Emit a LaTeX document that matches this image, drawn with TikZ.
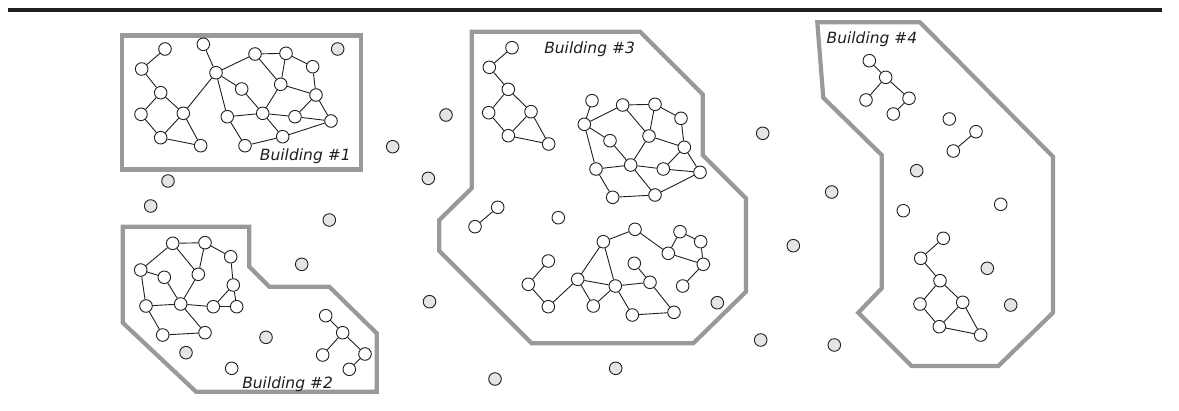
\documentclass[tikz,border=0pt]{standalone}
\usepackage{fontspec}
\setsansfont{DejaVu Sans}
\usetikzlibrary{positioning}
\colorlet{mywall}{black!40}
\colorlet{myfree}{black!10}
\colorlet{myink}{black!88}

\begin{document}
\begin{tikzpicture}[
    x=1pt, y=-1pt, line width=0.9pt, draw=myink,
    dev/.style={circle, draw=myink, fill=white, minimum size=12.6pt, inner sep=0pt},
    stray/.style={dev, fill=myfree},
    wall/.style={draw=mywall, line width=4.2pt, line join=miter},
    tag/.style={anchor=base west, inner sep=0pt, text=myink,
                font=\sffamily\itshape\fontsize{15.5}{18}\selectfont},
  ]
  \useasboundingbox (0,0) rectangle (1179,410);
  \draw[line width=3.6pt, myink] (8,10) -- (1162,10);

  % ------------------------------------------------------------------ walls
  \draw[wall] (122,35.5) rectangle (361,169.5);
  \draw[wall] (122.7,226.7) -- (249.3,226.7) -- (249.3,266.7) -- (269.3,286.7)
    -- (329.3,286.7) -- (376.7,333.3) -- (376.7,391.7) -- (196,391.7)
    -- (122.7,322.7) -- cycle;
  \draw[wall] (471.7,31.7) -- (640,31.7) -- (702.7,94.3) -- (702.7,155)
    -- (746,198.3) -- (746,291.7) -- (693.3,343.3) -- (531.7,343.3)
    -- (439.3,251) -- (439.3,220) -- (471.7,188.3) -- cycle;
  \draw[wall] (817.3,22.3) -- (920,22.3) -- (1053,156.7) -- (1053,312.7)
    -- (998.3,366) -- (911.7,366) -- (858.3,312.7) -- (881.7,288.3)
    -- (881.7,155) -- (823.3,97.7) -- cycle;

  \node[tag] (t1) at (259.5,160.7) {Building \#1};
  \node[tag] (t2) at (241.8,388.3) {Building \#2};
  \node[tag] (t3) at (543.8,53.3)  {Building \#3};
  \node[tag] (t4) at (826.2,43.3)  {Building \#4};

  % ------------------------------------------------------------------ devices
  % building 1
  \foreach \n/\x/\y in {a1/165/49, a2/141.7/69, a3/160.7/92.7, a4/141/114.3,
      a5/183.3/113.3, a6/160.7/137.7, a7/200.7/145.7, a8/203.3/44.3,
      a9/216/72.7, a10/241.7/89, a11/227.3/116.7, a12/245/145.7,
      a13/262.7/113.3, a14/255/54, a15/286/53.3, a16/280.7/84.3,
      a17/312.7/66.7, a18/316/95, a19/295/116.7, a20/331/121, a21/282.7/136.7}
    \node[dev] (\n) at (\x,\y) {};
  % building 2
  \foreach \n/\x/\y in {b1/172.7/243.3, b2/205/242.7, b3/230.7/256.7,
      b4/140.7/270, b5/164.3/277.3, b6/198.3/274.3, b7/233.3/285,
      b8/146/306, b9/180.7/304, b10/213.3/306.7, b11/236.7/306.7,
      b12/162.7/335, b13/205/332.7, b14/231.7/368.3,
      c1/325.7/315.7, c2/342.7/332.7, c3/322.7/355, c4/365/354, c5/349.3/369.3}
    \node[dev] (\n) at (\x,\y) {};
  % building 3
  \foreach \n/\x/\y in {d1/512/47.7, d2/489.3/67.3, d3/508.3/89.3,
      d4/488.7/112.7, d5/531/111.7, d6/508.3/135.7, d7/548.7/144,
      e1/592/100.7, e2/584.3/124.3, e3/622.7/105, e4/655/104.3,
      e5/681/118.3, e6/610/140.7, e7/649/136, e8/684.3/147.3,
      e9/596/169, e10/630.7/165, e11/663.3/169, e12/700/172.3,
      e13/612.7/197.3, e14/655/195,
      f1/497.7/207.3, f2/475/226.7, f3/558.3/217.7, f4/548.3/261,
      f5/528.3/284.3, f6/548.3/306.7, f7/577.7/279.3, f8/603.3/241.7,
      f9/635/229.3, f10/593.3/306, f11/615.3/286, f12/634.3/263.3,
      f13/650/282.3, f14/632.3/315, f15/674/312.3, f16/668.3/253.3,
      f17/680/231.7, f18/700.7/241.7, f19/703.3/264.3, f20/682.7/286}
    \node[dev] (\n) at (\x,\y) {};
  % building 4
  \foreach \n/\x/\y in {h1/869.3/60.7, h2/885.7/77.3, h3/866/100,
      h4/909/98.3, h5/893.3/114, h6/949.3/119, h7/976/131.7, h8/953.3/151,
      k1/903.3/210.7, k2/1000.7/204.3,
      i1/943.3/238.3, i2/920.7/258.3, i3/940/280.7, i4/920/304,
      i5/962.7/302.3, i6/939.3/326.7, i7/980.7/335}
    \node[dev] (\n) at (\x,\y) {};

  % devices nobody has placed yet
  \foreach \x/\y [count=\i] in {337.7/49, 392.7/146.7, 168/181, 150.7/206,
      329.3/220, 301.7/264.3, 266/337.3, 186/352.7, 446/115, 428.3/178.3,
      429.5/301.7, 495/379, 615.7/368.3, 717.3/302.7, 760.7/340,
      762.7/133.3, 793.3/245.7, 831.7/192, 834.3/345, 916.7/170.7,
      987.3/268.3, 1010.7/305}
    \node[stray] (g\i) at (\x,\y) {};

  % ------------------------------------------------------------------ links
  \foreach \s/\t in {a1/a2, a2/a3, a3/a4, a3/a5, a4/a6, a5/a6, a5/a7, a6/a7,
      a5/a9, a8/a9, a9/a14, a9/a10, a9/a11, a10/a13, a11/a13, a11/a12,
      a12/a21, a13/a21, a13/a19, a13/a16, a14/a15, a14/a16, a15/a16,
      a15/a17, a16/a18, a17/a18, a18/a19, a18/a20, a19/a20, a21/a20}
    \path (\s) edge (\t);
  \foreach \s/\t in {b1/b2, b1/b4, b1/b6, b2/b6, b2/b3, b3/b7, b4/b5, b4/b8,
      b5/b9, b6/b9, b8/b9, b8/b12, b9/b10, b9/b13, b12/b13, b10/b11,
      b10/b7, b7/b11, c1/c2, c2/c3, c2/c4, c4/c5}
    \path (\s) edge (\t);
  \foreach \s/\t in {d1/d2, d2/d3, d3/d4, d3/d5, d4/d6, d5/d6, d5/d7, d6/d7,
      e1/e2, e2/e3, e3/e4, e3/e7, e4/e7, e4/e5, e5/e8, e7/e8, e2/e6,
      e6/e10, e7/e10, e2/e9, e9/e10, e10/e11, e11/e8, e11/e12, e8/e12,
      e9/e13, e13/e14, e10/e14, e14/e12,
      f1/f2, f4/f5, f5/f6, f6/f7, f7/f8, f7/f10, f7/f11, f10/f11, f8/f11,
      f8/f9, f9/f16, f16/f17, f17/f18, f18/f19, f16/f19, f19/f20,
      f11/f13, f12/f13, f11/f14, f14/f15, f13/f15}
    \path (\s) edge (\t);
  \foreach \s/\t in {h1/h2, h2/h3, h2/h4, h4/h5, h7/h8,
      i1/i2, i2/i3, i3/i4, i3/i5, i4/i6, i5/i6, i5/i7, i6/i7}
    \path (\s) edge (\t);

\end{tikzpicture}
\end{document}
